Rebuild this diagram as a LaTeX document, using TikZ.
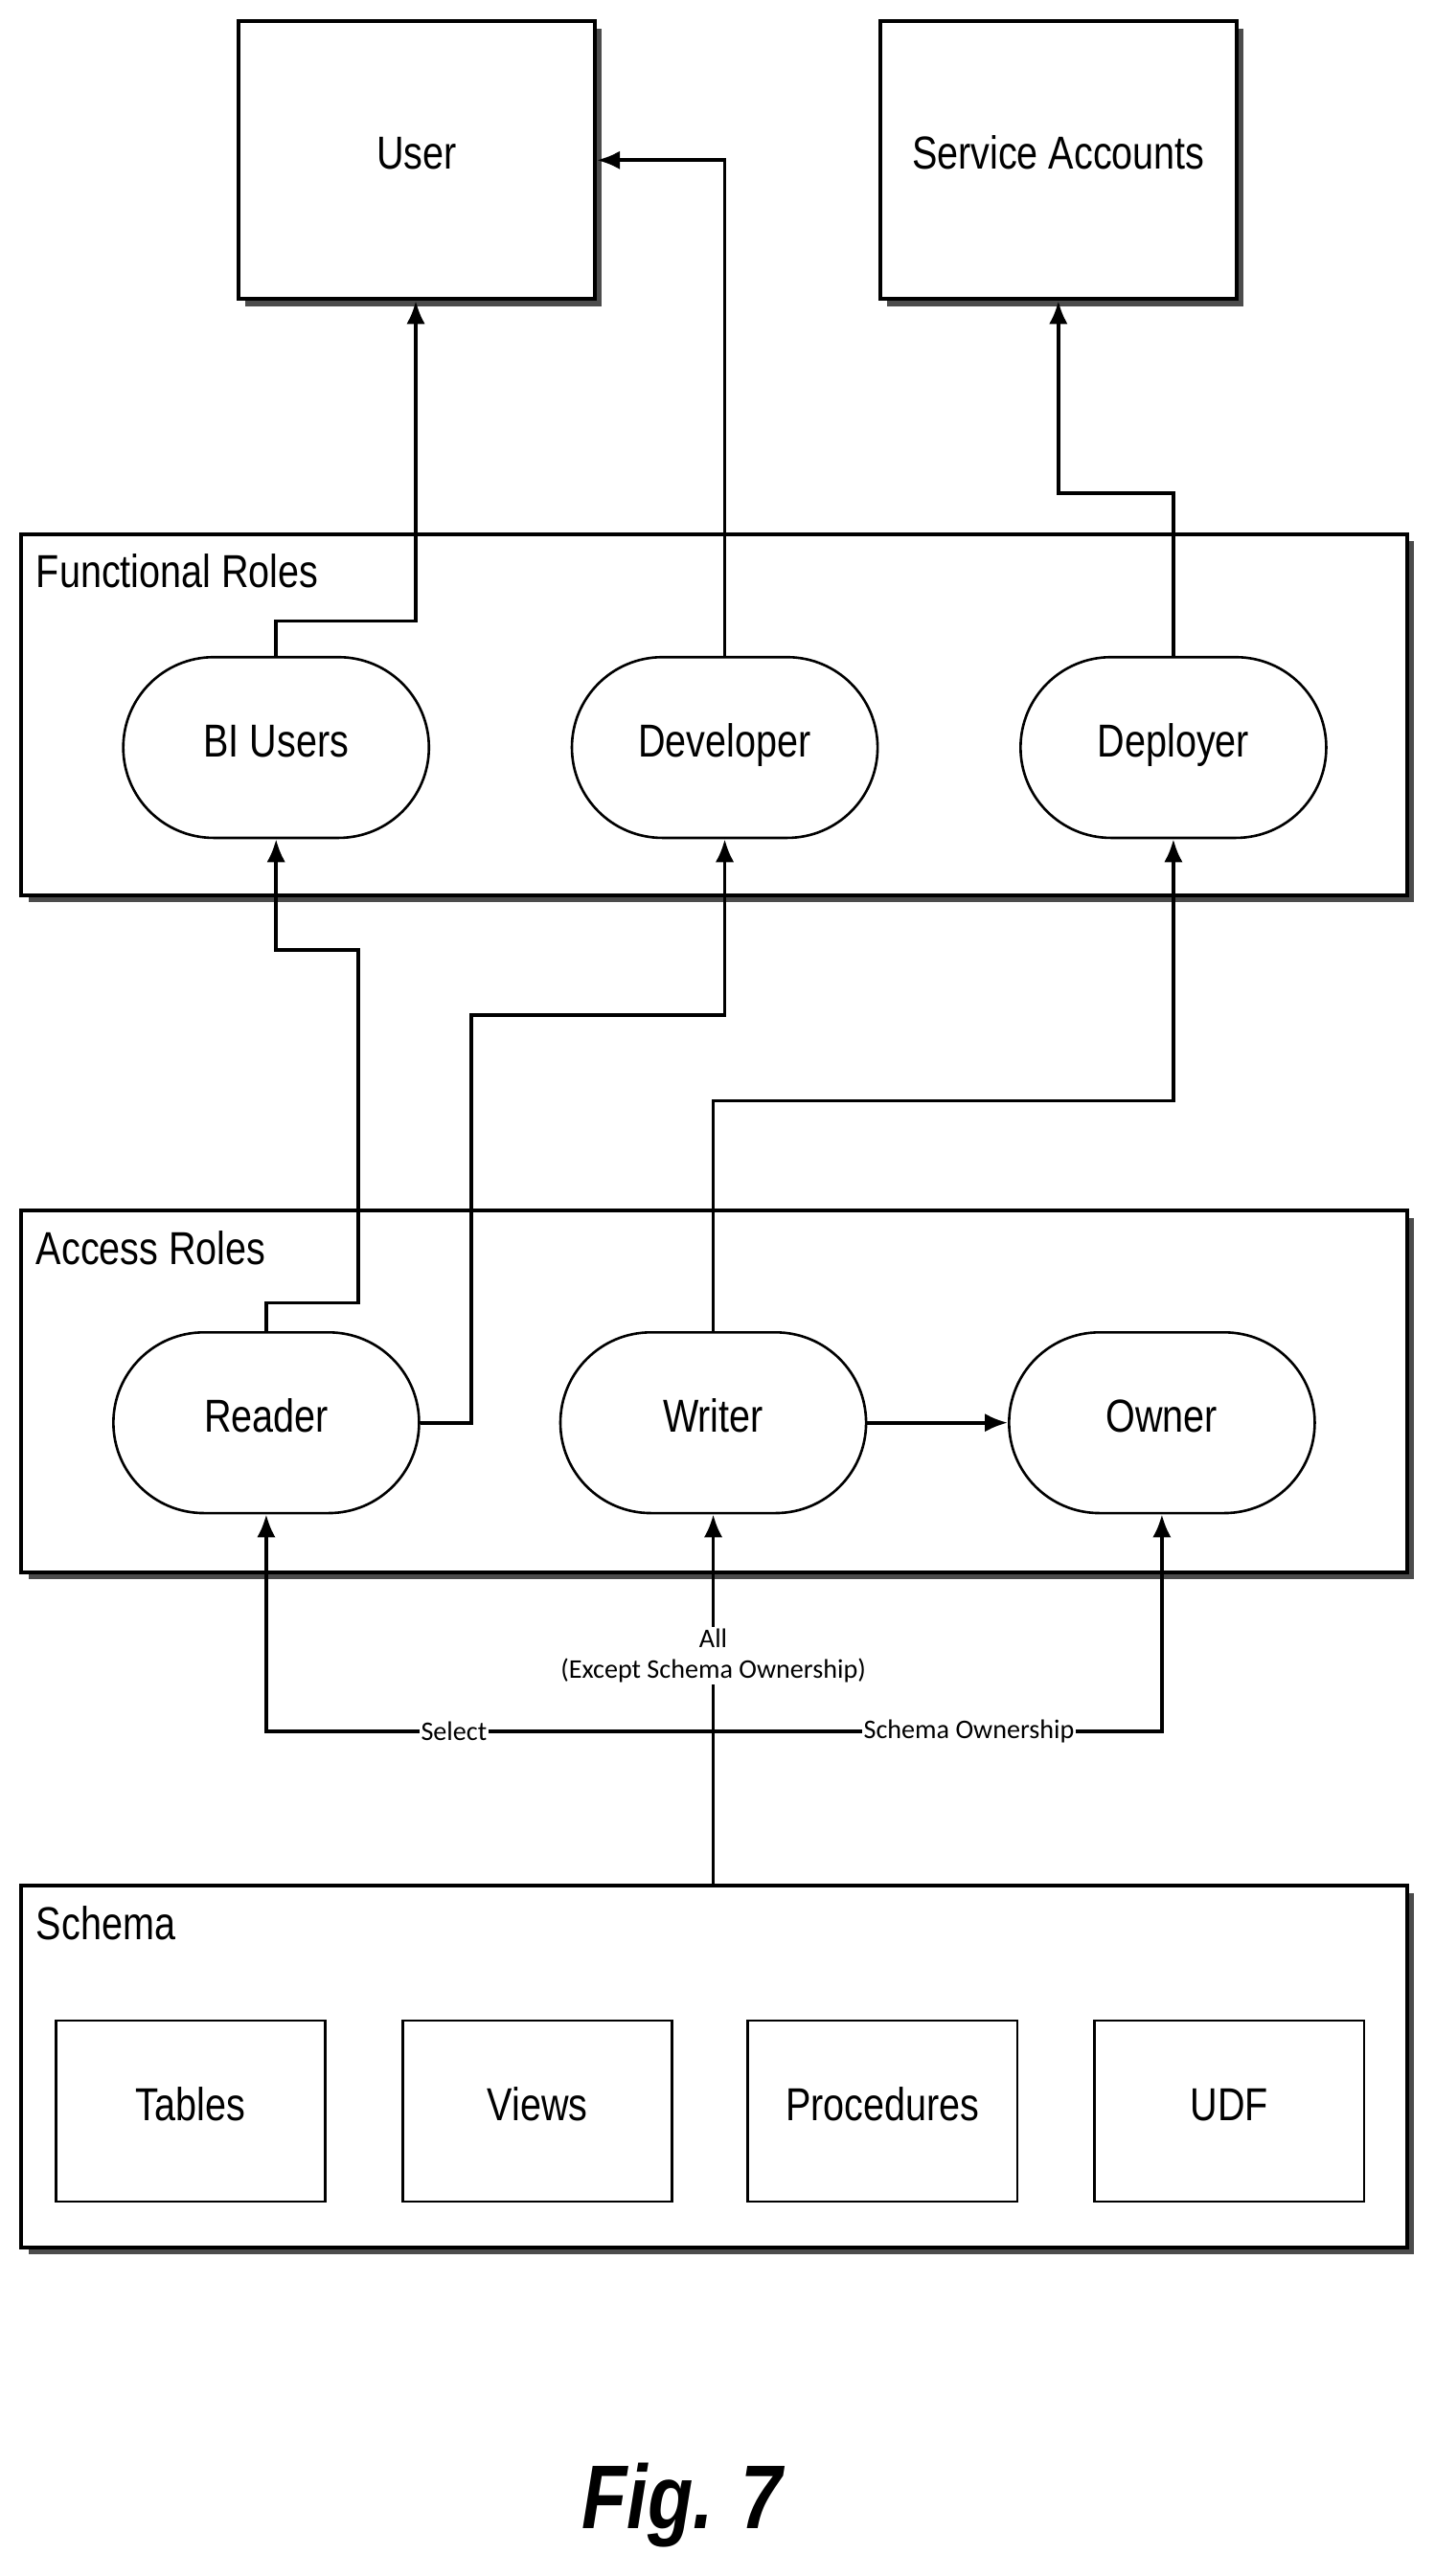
\documentclass[tikz,border=0pt]{standalone}
\usepackage{fontspec}
\setmainfont{Liberation Sans}[FakeStretch=0.82]
\newfontfamily\labelfont{Carlito}
\usetikzlibrary{positioning,shadows,arrows.meta}
\tikzset{shadowed/.style={drop shadow={shadow xshift=.13cm, shadow yshift=-.13cm, fill=black!70, opacity=1}}}
\tikzset{big text/.style={font=\fontsize{24}{28}\selectfont, text height=0.95em, text depth=0em}}
\tikzset{top box/.style={draw, line width=2pt, fill=white, shadowed, minimum width=6.51cm, minimum height=5.07cm, big text}}
\tikzset{group box/.style={draw, line width=2pt, fill=white, shadowed, minimum width=25.29cm, minimum height=6.6cm}}
\tikzset{role node/.style={draw, line width=1.3pt, fill=white, rounded corners=1.65cm, minimum width=5.58cm, minimum height=3.3cm, big text}}
\tikzset{item node/.style={draw, line width=1.3pt, minimum width=4.92cm, minimum height=3.3cm, big text}}
\tikzset{group label/.style={anchor=north west, font=\fontsize{24}{28}\selectfont}}
\tikzset{link/.style={draw, line width=1.9pt, -{Latex[length=4.2mm, width=3.4mm]}}}
\tikzset{edge label/.style={fill=white, inner sep=1pt, font=\labelfont\fontsize{14}{16}\selectfont}}

\begin{document}
\begin{tikzpicture}[x=0.03cm, y=-0.03cm]
  \useasboundingbox (0,0) rectangle (873,1568);

  \node [top box] (user)    at (253.5, 97.5) {User};
  \node [top box] (service) at (644, 97.5)   {Service Accounts};

  \node [group box] (functional) at (434.5, 435) {};
  \node [group label] at (18, 333) {Functional Roles};
  \node [role node] (bi)       at (168, 455) {BI Users};
  \node [role node] (dev)      at (441, 455) {Developer};
  \node [role node] (deployer) at (714, 455) {Deployer};

  \node [group box] (access) at (434.5, 847) {};
  \node [group label] at (18, 745) {Access Roles};
  \node [role node] (reader) at (162, 866) {Reader};
  \node [role node] (writer) at (434, 866) {Writer};
  \node [role node] (owner)  at (707, 866) {Owner};

  \node [group box] (schema) at (434.5, 1258) {};
  \node [group label] at (18, 1156) {Schema};
  \node [item node] (tables) at (116, 1285) {Tables};
  \node [item node] (views)  at (327, 1285) {Views};
  \node [item node] (procs)  at (537, 1285) {Procedures};
  \node [item node] (udf)    at (748, 1285) {UDF};

  \coordinate (split) at (434, 1054);

  % functional roles to accounts
  \draw [link] (bi.north) |- (253, 378) -- (user.south -| 253, 0);
  \draw [link] (dev.north) |- (user.east);
  \draw [link] (deployer.north) |- (644, 300) -- (service.south);

  % access roles to functional roles
  \draw [link] (reader.north) |- (218, 793) |- (168, 578) -- (bi.south);
  \draw [link] (reader.east) -| (287, 618) -| (dev.south);
  \draw [link] (writer.north) |- (714, 670) -- (deployer.south);
  \draw [link] (writer.east) -- (owner.west);

  % schema grants
  \draw [line width=1.9pt] (schema.north -| split) -- (split);
  \draw [link] (split) -- node [edge label, align=center, pos=0.35] {All\\(Except Schema Ownership)} (writer.south);
  \draw [link] (split) -- node [edge label, pos=0.58] {Select} (162, 1054) -- (reader.south);
  \draw [link] (split) -- node [edge label, pos=0.57] {Schema Ownership} (707, 1054) -- (owner.south);

  \node [font=\fontsize{47}{52}\selectfont\bfseries\itshape] (caption) at (415, 1525) {Fig. 7};
\end{tikzpicture}
\end{document}
